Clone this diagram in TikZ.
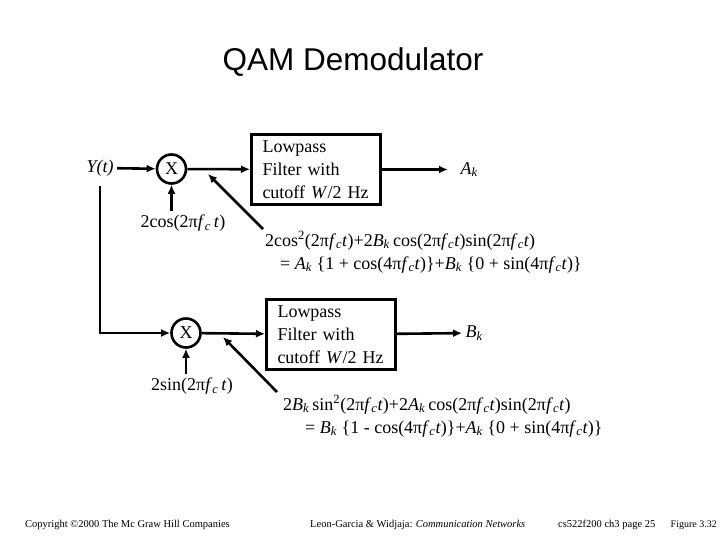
\documentclass[tikz,border=0pt]{standalone}
\usepackage{fontspec}
\setmainfont{Liberation Serif}
\newfontfamily\titlefont{Liberation Sans}
\usetikzlibrary{arrows.meta}
\newcommand{\fc}{\textit{f}\textsubscript{\textit{c}}}
\newcommand{\Ak}{\textit{A}\textsubscript{\textit{k}}}
\newcommand{\Bk}{\textit{B}\textsubscript{\textit{k}}}

\begin{document}
\begin{tikzpicture}[
    x=1pt, y=-1pt,
    font=\fontsize{18}{23}\selectfont,
    sig/.style={line width=2.6pt, -{Latex[length=9pt,width=8pt]}},
    mixer/.style={circle, draw, line width=2.6pt, minimum size=29pt, inner sep=0pt},
    filterbox/.style={draw, line width=3pt, text width=107pt, inner xsep=11pt,
        minimum height=70pt, align=left},
    eqline/.style={anchor=base west, inner sep=0pt},
    foot/.style={anchor=west, inner sep=0pt, font=\fontsize{10.5}{12}\selectfont}
]
\useasboundingbox (0,0) rectangle (720,540);
\node[font=\titlefont\fontsize{31.5}{36}\selectfont] (title) at (353,62) {QAM Demodulator};

\node (yin) at (100,168) {\textit{Y(t)}};
\node[mixer] (mix1) at (171.5,169) {X};
\node[filterbox] (lpf1) at (316,169.5) {Lowpass\\Filter with\\cutoff \textit{W}/2 Hz};
\node[anchor=west] (ak) at (457,169.5) {\Ak};
\node (cos1) at (183,223) {2cos(2π\fc\,\textit{t})};
\node[eqline] (eq1a) at (265,246) {2cos\textsuperscript{2}(2π\fc\textit{t})+2\Bk\,cos(2π\fc\textit{t})sin(2π\fc\textit{t})};
\node[eqline] (eq1b) at (280,269) {= \Ak\ \{1 + cos(4π\fc\textit{t})\}+\Bk\ \{0 + sin(4π\fc\textit{t})\}};
\coordinate (tail1) at (263,229);
\coordinate (tip1) at (208,174);

\draw[sig] (yin) -- (mix1);
\draw[sig] (mix1) -- (lpf1);
\draw[sig, shorten >=9pt] (lpf1) -- (ak);
\draw[sig] (cos1.north -| mix1) -- (mix1);
\draw[sig] (tail1) -- (tip1);

\node[mixer] (mix2) at (186,333) {X};
\node[filterbox] (lpf2) at (331,334.5) {Lowpass\\Filter with\\cutoff \textit{W}/2 Hz};
\node[anchor=west] (bk) at (462,333) {\Bk};
\node (sin1) at (192,386) {2sin(2π\fc\,\textit{t})};
\node[eqline] (eq2a) at (283,410) {2\Bk\,sin\textsuperscript{2}(2π\fc\textit{t})+2\Ak\,cos(2π\fc\textit{t})sin(2π\fc\textit{t})};
\node[eqline] (eq2b) at (305,433) {= \Bk\ \{1 - cos(4π\fc\textit{t})\}+\Ak\ \{0 + sin(4π\fc\textit{t})\}};
\coordinate (tail2) at (277,392);
\coordinate (tip2) at (223,337);

\draw[sig] ([yshift=-6pt]yin.south) |- (mix2);
\draw[sig] (mix2) -- (lpf2);
\draw[sig] (lpf2) -- (bk);
\draw[sig] (sin1.north -| mix2) -- (mix2);
\draw[sig] (tail2) -- (tip2);

\node[foot] (copy) at (25,525) {Copyright ©2000 The Mc Graw Hill Companies};
\node[foot] (book) at (310,525) {Leon-Garcia \& Widjaja: \textit{Communication Networks}};
\node[foot] (page) at (558,525) {cs522f200 ch3 page 25};
\node[foot, anchor=east, font=\fontsize{10}{12}\selectfont] (fig) at (717,525) {Figure 3.32};
\end{tikzpicture}
\end{document}
